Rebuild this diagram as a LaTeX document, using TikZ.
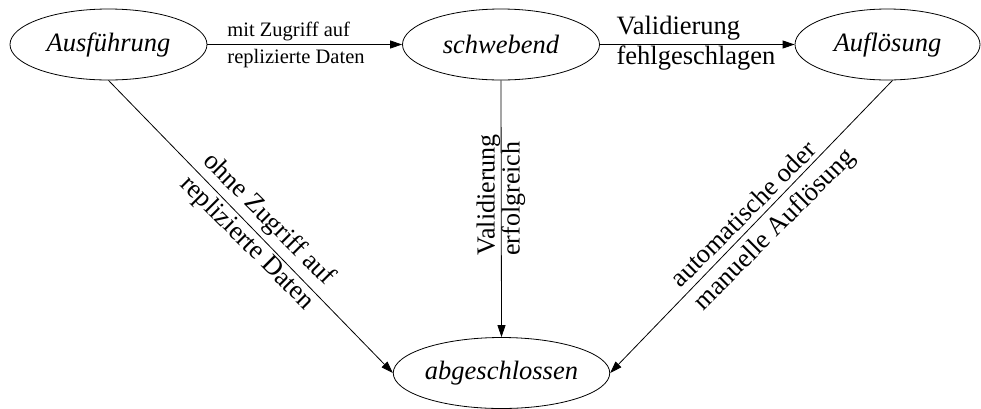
\documentclass[tikz,border=0pt]{standalone}
\usepackage{fontspec}
\setmainfont{Liberation Serif}
\usetikzlibrary{shapes.geometric,arrows.meta}
\begin{document}
\begin{tikzpicture}[x=1pt,y=-1pt,
  state/.style={ellipse,draw,line width=0.8pt,inner sep=0pt,minimum height=71pt,
    font=\fontsize{26.5}{30}\selectfont\itshape},
  arr/.style={line width=0.8pt,-{Triangle[length=12pt,width=8pt]}},
  lbl/.style={font=\fontsize{26.5}{30}\selectfont,align=left,inner sep=0pt},
  dlbl/.style={font=\fontsize{26.5}{32}\selectfont,align=left,inner sep=0pt},
  vlbl/.style={font=\fontsize{26}{25}\selectfont,align=left,inner sep=0pt},
  slbl/.style={font=\fontsize{20.5}{27}\selectfont,align=left,inner sep=0pt},
]
\useasboundingbox (0,0) rectangle (981,408);
\node[state,minimum width=197pt] (A) at (108.5,44.5) {Ausführung};
\node[state,minimum width=197pt] (B) at (501,44.5) {schwebend};
\node[state,minimum width=185pt] (C) at (887.5,44.5) {Auflösung};
\node[state,minimum width=197pt] (D) at (501.5,373) {abgeschlossen};

\draw[arr] (A.east) -- (B.west);
\draw[arr] (B.east) -- (C.west);
\draw[arr] (A.south) -- (D.west);
\draw[arr] (B.south) -- (D.north);
\draw[arr] ([xshift=5pt]C.south) -- (D.east);

\node[slbl] (l1) at (296,45) {mit Zugriff auf\\replizierte Daten};
\node[lbl] (l2) at (696,43) {Validierung\\fehlgeschlagen};
\node[dlbl,rotate=-45] (l3) at (258,232) {ohne Zugriff auf\\replizierte Daten};
\node[vlbl,rotate=90] (l4) at (501,195) {Validierung\\erfolgreich};
\node[dlbl,rotate=45] (l5) at (764,219) {automatische oder\\manuelle Auflösung};
\end{tikzpicture}
\end{document}
